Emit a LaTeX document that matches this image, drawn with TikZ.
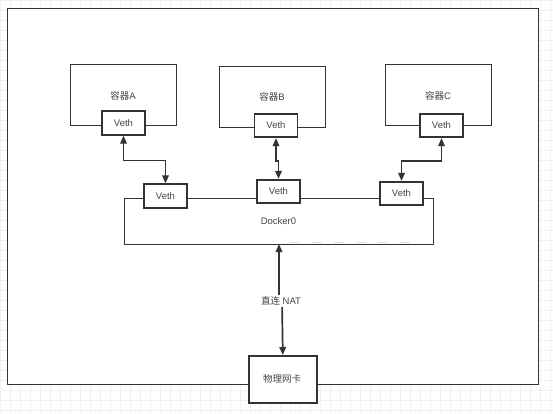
\documentclass[tikz,border=0pt]{standalone}
\usepackage{fontspec}
\setmainfont{Liberation Sans}
\newfontfamily\cjk{Noto Sans CJK SC}
\usetikzlibrary{arrows.meta}
\definecolor{ink}{HTML}{333333}
\definecolor{txt}{HTML}{444444}
\definecolor{gridc}{HTML}{F0F0F0}
\begin{document}
\begin{tikzpicture}[x=1pt,y=-1pt,
  box/.style={draw=ink,line width=1.4pt,fill=white,inner sep=0pt,anchor=north west},
  vethbox/.style={draw=ink,line width=1.7pt,fill=white,inner sep=0pt,minimum width=43pt,minimum height=23.5pt,font=\fontsize{9.5}{10}\selectfont,text=txt},
  lbl/.style={font=\fontsize{9.5}{10}\selectfont,text=txt,inner sep=1pt},
  link/.style={draw=ink,line width=1.7pt,{Triangle[width=6.5pt,length=8pt]}-{Triangle[width=6.5pt,length=8pt]}}]
\useasboundingbox (0,0) rectangle (553,413);
\fill[white] (0,0) rectangle (553,413);
\foreach \x in {0,10,...,550} \draw[gridc,line width=0.6pt] (\x,0) -- (\x,413);
\foreach \y in {0,10,...,410} \draw[gridc,line width=0.6pt] (0,\y) -- (553,\y);
% outer frame
\node[box,line width=1.4pt,minimum width=531pt,minimum height=376pt] (frame) at (7,8) {};
% containers
\node[box,minimum width=106pt,minimum height=61pt] (cA) at (70,64) {};
\node[box,minimum width=106pt,minimum height=61pt] (cB) at (219,66) {};
\node[box,minimum width=106pt,minimum height=61pt] (cC) at (385,64) {};
\node[lbl] (tA) at (123,96) {{\cjk 容器}A};
\node[lbl] (tB) at (272,97) {{\cjk 容器}B};
\node[lbl] (tC) at (438,96) {{\cjk 容器}C};
% docker0 bridge
\node[box,minimum width=309pt,minimum height=46pt] (d0) at (124,198) {};
\node[lbl] (td) at (278.5,221) {Docker0};
\draw[gray!20,line width=1pt,dash pattern=on 10pt off 12pt] (290,242) -- (418,242);
% veth interfaces
\node[vethbox] (vA) at (123.5,123) {Veth};
\node[vethbox] (vB) at (276,125.5) {Veth};
\node[vethbox] (vC) at (441.5,125.5) {Veth};
\node[vethbox] (v1) at (165.5,196) {Veth};
\node[vethbox] (v2) at (278.5,191.5) {Veth};
\node[vethbox] (v3) at (401.5,193.5) {Veth};
% physical NIC
\node[box,line width=1.6pt,minimum width=68pt,minimum height=47pt] (nic) at (248,355) {};
\node[lbl] (tn) at (282,379) {\cjk 物理网卡};
% links
\draw[link] (vA.south) -- ++(0,25) -| (v1.north);
\draw[link] (vB.south) -- ++(0,23) -| (v2.north);
\draw[link] (vC.south) -- ++(0,23) -| (v3.north);
\coordinate (dtop) at (279,244);
\coordinate (mid1) at (279,301);
\coordinate (mid2) at (282,301);
\draw[link] (dtop) -- (mid1) -- (mid2) -- (nic.north);
\node[lbl,fill=white,inner sep=2pt] (nat) at (281,301) {{\cjk 直连} NAT};
\end{tikzpicture}
\end{document}
